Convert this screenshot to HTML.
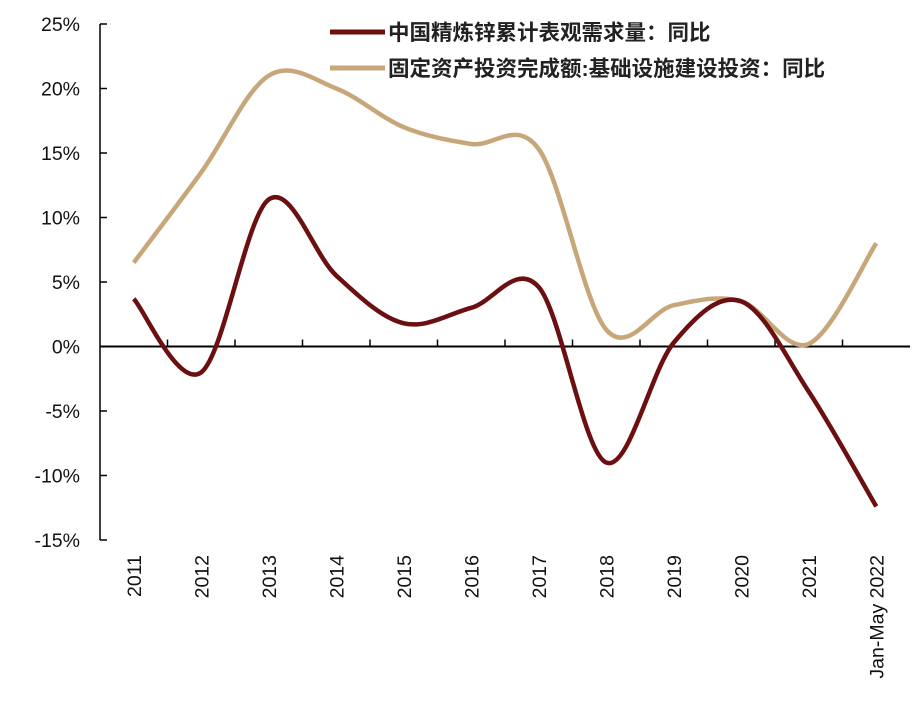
<!DOCTYPE html>
<html><head><meta charset="utf-8"><style>
html,body{margin:0;padding:0;background:#fff;}
svg text{font-family:"Liberation Sans","Noto Sans CJK SC",sans-serif;}
</style></head><body>
<svg width="912" height="702" viewBox="0 0 912 702">
<g id="axes"></g>
<g id="series"></g>
<g>
 <line x1="330" y1="32" x2="385" y2="32" stroke="#6b0f10" stroke-width="5"/>
 <text x="388" y="40" font-size="21.5" font-weight="bold" fill="#222">中国精炼锌累计表观需求量：同比</text>
 <line x1="330" y1="68" x2="385" y2="68" stroke="#c7a77a" stroke-width="5"/>
 <text x="388" y="76" font-size="21.5" font-weight="bold" fill="#222">固定资产投资完成额:基础设施建设投资：同比</text>
</g>
</svg>
<script>
const categories=["2011","2012","2013","2014","2015","2016","2017","2018","2019","2020","2021","Jan-May 2022"];
const zincValues=[3.7,-2.0,11.4,5.5,1.8,3.0,4.6,-9.0,0.3,3.5,-3.5,-12.4];
const infraValues=[6.5,13.5,21.0,20.0,17.0,15.7,15.3,1.3,3.2,3.5,0.2,8.0];
const yTicks=[25,20,15,10,5,0,-5,-10,-15];
const NS="http://www.w3.org/2000/svg";
const left=100,step=67.5,top0=24,bot=540,yMax=25,yMin=-15;
const x=i=>left+step*(i+0.5);
const y=v=>top0+(yMax-v)/(yMax-yMin)*(bot-top0);
function mk(t,a,p){const e=document.createElementNS(NS,t);for(const k in a)e.setAttribute(k,a[k]);(p||document.getElementById('axes')).appendChild(e);return e;}
let e=mk('line',{x1:left,y1:top0,x2:left,y2:bot,stroke:'#000','stroke-width':1.5});

yTicks.forEach(v=>{
 let t=mk('line',{x1:left,y1:y(v),x2:left+7,y2:y(v),stroke:'#000','stroke-width':1.5});
 
 let l=mk('text',{x:80,y:y(v)+7,'font-size':19.5,'text-anchor':'end',fill:'#111'});
 l.textContent=v+'%';
 
});
e=mk('line',{x1:left,y1:y(0),x2:left+step*categories.length,y2:y(0),stroke:'#000','stroke-width':2});

for(let k=1;k<categories.length;k++){
 let t=mk('line',{x1:left+step*k,y1:y(0)-7,x2:left+step*k,y2:y(0),stroke:'#000','stroke-width':1.5});
 
}
categories.forEach((c,i)=>{
 let l=mk('text',{x:0,y:0,'font-size':19.5,'text-anchor':'end',fill:'#111',transform:`translate(${x(i)+7},${555}) rotate(-90)`});
 l.textContent=c;
 
});
function path(vals){
 const p=vals.map((v,i)=>[x(i),y(v)]);
 let d=`M${p[0][0]},${p[0][1]}`;
 for(let i=0;i<p.length-1;i++){
  const p0=p[i-1]||p[i],p1=p[i],p2=p[i+1],p3=p[i+2]||p[i+1];
  const c1=[p1[0]+(p2[0]-p0[0])/6,p1[1]+(p2[1]-p0[1])/6];
  const c2=[p2[0]-(p3[0]-p1[0])/6,p2[1]-(p3[1]-p1[1])/6];
  d+=` C${c1[0]},${c1[1]} ${c2[0]},${c2[1]} ${p2[0]},${p2[1]}`;
 }
 return d;
}
const sg=document.getElementById('series');
let s1=mk('path',{d:path(infraValues),fill:'none',stroke:'#c7a77a','stroke-width':4.5},sg);

let s2=mk('path',{d:path(zincValues),fill:'none',stroke:'#6b0f10','stroke-width':4.5},sg);

</script>
</body></html>
